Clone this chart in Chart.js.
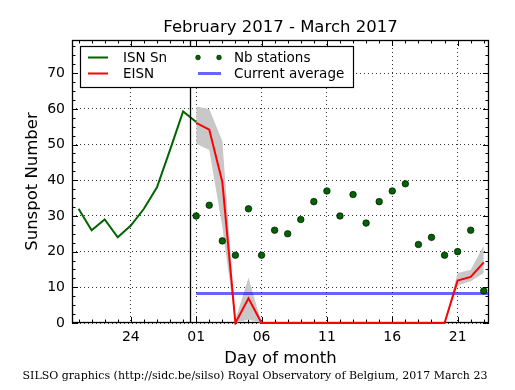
<!DOCTYPE html>
<html>
<head>
<meta charset="utf-8">
<script src="https://cdn.jsdelivr.net/npm/chart.js@4.4.1/dist/chart.umd.min.js"></script>
<style>
html, body { margin: 0; padding: 0; background: #fff; }
#wrap { width: 515px; height: 390px; }
</style>
</head>
<body>
<div id="wrap"><canvas id="chart" width="515" height="390"></canvas></div>
<script>
// day index: 0 = 01 March 2017, negative values = end of February
const isnDays = [-9, -8, -7, -6, -5, -4, -3, -2, -1, 0];
const isnValues = [32, 26, 29, 24, 27.3, 32, 38, 48.5, 59.3, 56.3];

const monthDays = [0, 1, 2, 3, 4, 5, 6, 7, 8, 9, 10, 11, 12, 13, 14, 15, 16, 17, 18, 19, 20, 21, 22];
const eisnValues = [56.1, 54.2, 39.5, 0, 6.9, 0, 0, 0, 0, 0, 0, 0, 0, 0, 0, 0, 0, 0, 0, 0, 11.9, 12.9, 17.0];
const eisnUpper = [60.7, 60.0, 51, 1, 12.7, 0, 0, 0, 0, 0, 0, 0, 0, 0, 0, 0, 0, 0, 0, 0, 14.0, 14.9, 21.7];
const eisnLower = [50.2, 48.5, 27, 0, 1, 0, 0, 0, 0, 0, 0, 0, 0, 0, 0, 0, 0, 0, 0, 0, 10.5, 11.7, 14.0];
const stationCounts = [30, 33, 23, 19, 32, 19, 26, 25, 29, 34, 37, 30, 36, 28, 34, 37, 39, 22, 24, 19, 20, 26, 9];

const averageDays = [0, 23];
const currentAverage = [8.3, 8.3];
const monthBoundary = -0.5;

const xTickDays = [-5, 0, 5, 10, 15, 20];
const xTickLabels = ['24', '01', '06', '11', '16', '21'];
const yTickValues = [0, 10, 20, 30, 40, 50, 60, 70];

const FONT = 'DejaVu Sans';
const pts = (xs, ys) => xs.map((x, i) => ({x: x, y: ys[i]}));

// frame and inside ticks, under the data
const frame = {
	id: 'frame',
	beforeDatasetsDraw(chart) {
		const c = chart.ctx;
		const a = chart.chartArea;
		const sx = chart.scales.x, sy = chart.scales.y;
		c.save();
		c.strokeStyle = '#000';
		c.lineWidth = 1;
		c.beginPath();
		for (let d = Math.ceil(sx.min); d <= sx.max; d++) {
			const x = Math.round(sx.getPixelForValue(d)) + 0.5;
			const len = xTickDays.includes(d) ? 6 : 3.5;
			c.moveTo(x, a.bottom); c.lineTo(x, a.bottom - len);
			c.moveTo(x, a.top); c.lineTo(x, a.top + len);
		}
		for (let v = 0; v <= sy.max; v += 2.5) {
			const y = Math.round(sy.getPixelForValue(v)) + 0.5;
			const len = yTickValues.includes(v) ? 6 : 3.5;
			c.moveTo(a.left, y); c.lineTo(a.left + len, y);
			c.moveTo(a.right, y); c.lineTo(a.right - len, y);
		}
		c.stroke();
		c.lineWidth = 1.3;
		c.strokeRect(a.left + 0.5, a.top + 0.5, a.right - a.left - 1, a.bottom - a.top - 1);
		c.restore();
	}
};

// boundary line, legend and texts
const decor = {
	id: 'decor',
	afterDraw(chart) {
		const c = chart.ctx;
		const a = chart.chartArea;
		const sx = chart.scales.x;
		c.save();

		const bx = Math.round(sx.getPixelForValue(monthBoundary)) + 0.5;
		c.strokeStyle = '#000';
		c.lineWidth = 1.3;
		c.beginPath(); c.moveTo(bx, a.top); c.lineTo(bx, a.bottom); c.stroke();

		// legend
		c.fillStyle = '#fff';
		c.fillRect(80, 46, 274, 42);
		c.lineWidth = 1.2;
		c.strokeRect(80.5, 46.5, 273, 41);
		const r1 = 57.5, r2 = 73.5;
		c.lineWidth = 2;
		c.strokeStyle = '#006400';
		c.beginPath(); c.moveTo(88, r1); c.lineTo(108, r1); c.stroke();
		c.strokeStyle = '#ff0000';
		c.beginPath(); c.moveTo(88, r2); c.lineTo(108, r2); c.stroke();
		c.lineWidth = 3;
		c.strokeStyle = 'rgba(0,0,255,0.6)';
		c.beginPath(); c.moveTo(198, r2); c.lineTo(221, r2); c.stroke();
		c.fillStyle = '#006400';
		c.strokeStyle = '#000';
		c.lineWidth = 0.5;
		[198, 219].forEach(x => {
			c.beginPath(); c.arc(x, r1, 2.4, 0, Math.PI * 2); c.fill(); c.stroke();
		});
		c.fillStyle = '#000';
		c.font = '13.5px "' + FONT + '"';
		c.textBaseline = 'middle';
		c.textAlign = 'left';
		c.fillText('ISN Sn', 123, r1 + 1);
		c.fillText('EISN', 123, r2 + 1);
		c.fillText('Nb stations', 234, r1 + 1);
		c.fillText('Current average', 234, r2 + 1);

		// title and axis titles
		c.textBaseline = 'alphabetic';
		c.textAlign = 'center';
		const cx = (a.left + a.right) / 2;
		c.font = '16.5px "' + FONT + '"';
		c.fillText('February 2017 - March 2017', cx, 32);
		c.fillText('Day of month', cx, 363);
		c.save();
		c.translate(37, (a.top + a.bottom) / 2);
		c.rotate(-Math.PI / 2);
		c.fillText('Sunspot Number', 0, 0);
		c.restore();

		// footer
		c.font = '11px "DejaVu Serif"';
		c.fillText('SILSO graphics (http://sidc.be/silso) Royal Observatory of Belgium, 2017 March 23', 255, 379);
		c.restore();
	}
};

new Chart(document.getElementById('chart').getContext('2d'), {
	type: 'line',
	data: {
		datasets: [
			{
				label: 'Nb stations',
				data: pts(monthDays, stationCounts),
				showLine: false,
				pointRadius: 3.3,
				pointBackgroundColor: '#006400',
				pointBorderColor: '#000',
				pointBorderWidth: 0.6,
				order: 0
			},
			{
				label: 'EISN',
				data: pts(monthDays, eisnValues),
				borderColor: '#ff0000',
				borderWidth: 2,
				pointRadius: 0,
				clip: {left: 0, top: 0, right: 0, bottom: 2},
				order: 1
			},
			{
				label: 'ISN Sn',
				data: pts(isnDays, isnValues),
				borderColor: '#006400',
				borderWidth: 2,
				pointRadius: 0,
				order: 2
			},
			{
				label: 'Current average',
				data: pts(averageDays, currentAverage),
				borderColor: 'rgba(0,0,255,0.6)',
				borderWidth: 3,
				pointRadius: 0,
				clip: 0,
				order: 3
			},
			{
				label: 'EISN upper',
				data: pts(monthDays, eisnUpper),
				borderWidth: 0,
				pointRadius: 0,
				backgroundColor: '#c8c8c8',
				fill: 5,
				order: 4
			},
			{
				label: 'EISN lower',
				data: pts(monthDays, eisnLower),
				borderWidth: 0,
				pointRadius: 0,
				fill: false,
				order: 5
			}
		]
	},
	options: {
		animation: false,
		responsive: false,
		layout: {padding: {top: 40, right: 26, left: 0, bottom: 0}},
		plugins: {legend: {display: false}, tooltip: {enabled: false}},
		elements: {line: {tension: 0}},
		scales: {
			x: {
				type: 'linear',
				min: -9.5,
				max: 22.4,
				afterBuildTicks: s => { s.ticks = xTickDays.map(v => ({value: v})); },
				afterFit: s => { s.height = 67; },
				ticks: {
					callback: (v, i) => xTickLabels[i],
					font: {family: FONT, size: 14},
					color: '#000',
					padding: 6,
					maxRotation: 0,
					autoSkip: false
				},
				grid: {color: '#000', lineWidth: 0.8, drawTicks: false},
				border: {display: false, dash: [1, 3]}
			},
			y: {
				min: 0,
				max: 79.3,
				afterBuildTicks: s => { s.ticks = yTickValues.map(v => ({value: v})); },
				afterFit: s => { s.width = 72; },
				ticks: {
					font: {family: FONT, size: 14},
					color: '#000',
					padding: 7
				},
				grid: {color: '#000', lineWidth: 0.8, drawTicks: false},
				border: {display: false, dash: [1, 3]}
			}
		}
	},
	plugins: [frame, decor]
});
</script>
</body>
</html>
